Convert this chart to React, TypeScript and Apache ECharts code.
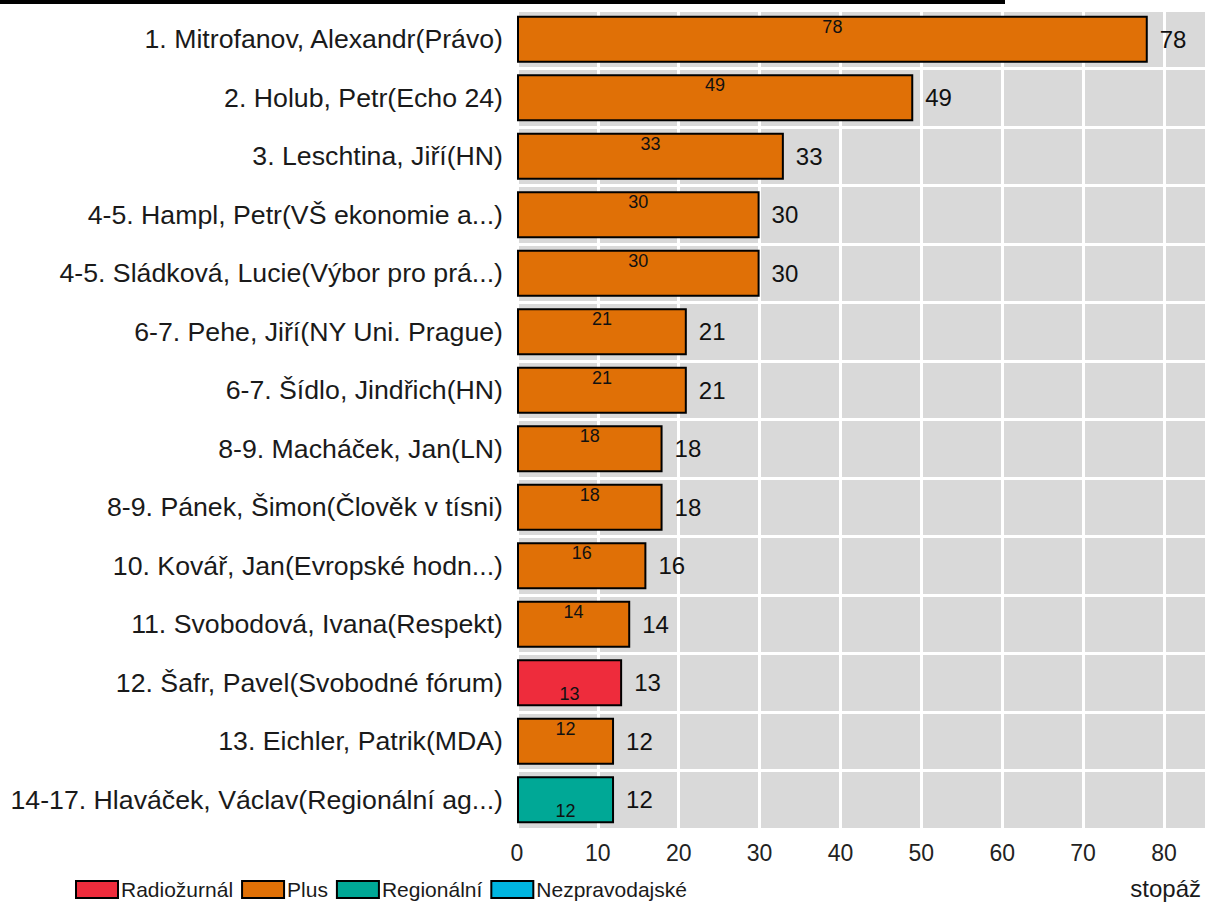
import React, { useEffect, useRef } from "react";
import * as echarts from "echarts";

const categories = [
  "1. Mitrofanov, Alexandr(Právo)",
  "2. Holub, Petr(Echo 24)",
  "3. Leschtina, Jiří(HN)",
  "4-5. Hampl, Petr(VŠ ekonomie a...)",
  "4-5. Sládková, Lucie(Výbor pro prá...)",
  "6-7. Pehe, Jiří(NY Uni. Prague)",
  "6-7. Šídlo, Jindřich(HN)",
  "8-9. Macháček, Jan(LN)",
  "8-9. Pánek, Šimon(Člověk v tísni)",
  "10. Kovář, Jan(Evropské hodn...)",
  "11. Svobodová, Ivana(Respekt)",
  "12. Šafr, Pavel(Svobodné fórum)",
  "13. Eichler, Patrik(MDA)",
  "14-17. Hlaváček, Václav(Regionální ag...)",
];
const values = [78, 49, 33, 30, 30, 21, 21, 18, 18, 16, 14, 13, 12, 12];
const stationOf = [
  "Plus", "Plus", "Plus", "Plus", "Plus", "Plus", "Plus",
  "Plus", "Plus", "Plus", "Plus", "Radiožurnál", "Plus", "Regionální",
];
const stations = ["Radiožurnál", "Plus", "Regionální", "Nezpravodajské"];
const stationColors = ["#EE2C3C", "#E07006", "#00A896", "#00B5E0"];
const xTicks = [0, 10, 20, 30, 40, 50, 60, 70, 80];
const axisName = "stopáž";

const REG = "'Liberation Sans', Arial, sans-serif";

export default function App() {
  const ref = useRef<HTMLDivElement>(null);
  useEffect(() => {
    if (!ref.current) return;
    const chart = echarts.init(ref.current, null, { renderer: "svg" });
    const stationSeries = stations.map((s, i) => ({
      name: s,
      type: "bar",
      barGap: "-100%",
      barCategoryGap: "20%",
      data: values.map((v, j) => (stationOf[j] === s ? v : "-")),
      itemStyle: { color: stationColors[i], borderColor: "#000", borderWidth: 2 },
      label: {
        show: true,
        position: s === "Plus" ? "insideTop" : "insideBottom",
        distance: s === "Plus" ? 2 : 3,
        fontFamily: REG,
        fontSize: 18,
        color: "#111",
      },
    }));
    chart.setOption({
      animation: false,
      backgroundColor: "#fff",
      grid: {
        left: 517,
        right: 0,
        top: 10,
        bottom: 76,
        show: true,
        backgroundColor: "#D9D9D9",
        borderWidth: 0,
      },
      legend: {
        data: stations,
        left: 75,
        top: 879,
        padding: 0,
        itemWidth: 42,
        itemHeight: 17,
        itemGap: 8,
        icon: "rect",
        itemStyle: { borderColor: "#000", borderWidth: 2 },
        textStyle: { fontFamily: REG, fontSize: 21, color: "#1a1a1a", padding: [0, 0, 0, -2] },
      },
      xAxis: {
        type: "value",
        min: 0,
        max: 85.2,
        interval: 10,
        axisLine: { show: false },
        axisTick: { show: false },
        axisLabel: {
          fontFamily: REG,
          fontSize: 23,
          color: "#222",
          margin: 12,
          formatter: (v: number) => (xTicks.includes(v) ? String(v) : ""),
        },
        splitLine: { show: true, lineStyle: { color: "#fff", width: 3 } },
      },
      yAxis: {
        type: "category",
        data: categories,
        inverse: true,
        axisLine: { show: false },
        axisTick: { show: false },
        axisLabel: { fontFamily: REG, fontSize: 26.7, color: "#1a1a1a", margin: 14 },
        splitLine: { show: true, lineStyle: { color: "#fff", width: 3 } },
      },
      series: [
        ...stationSeries,
        {
          name: "total",
          type: "bar",
          barGap: "-100%",
          barCategoryGap: "20%",
          data: values,
          silent: true,
          itemStyle: { color: "rgba(0,0,0,0)", borderWidth: 0 },
          label: {
            show: true,
            position: "right",
            distance: 12,
            fontFamily: REG,
            fontSize: 24,
            color: "#111",
          },
        },
      ],
      graphic: [
        { type: "rect", shape: { x: 0, y: 0, width: 1005, height: 4 }, style: { fill: "#000" } },
        {
          type: "text",
          x: 1201,
          y: 876,
          style: {
            text: axisName,
            align: "right",
            verticalAlign: "top",
            fontFamily: REG,
            fontSize: 24,
            fill: "#1a1a1a",
          },
        },
      ],
    });
    return () => chart.dispose();
  }, []);
  return (
    <div
      ref={ref}
      style={{ position: "absolute", left: 0, top: 0, width: 1209, height: 905 }}
    />
  );
}
